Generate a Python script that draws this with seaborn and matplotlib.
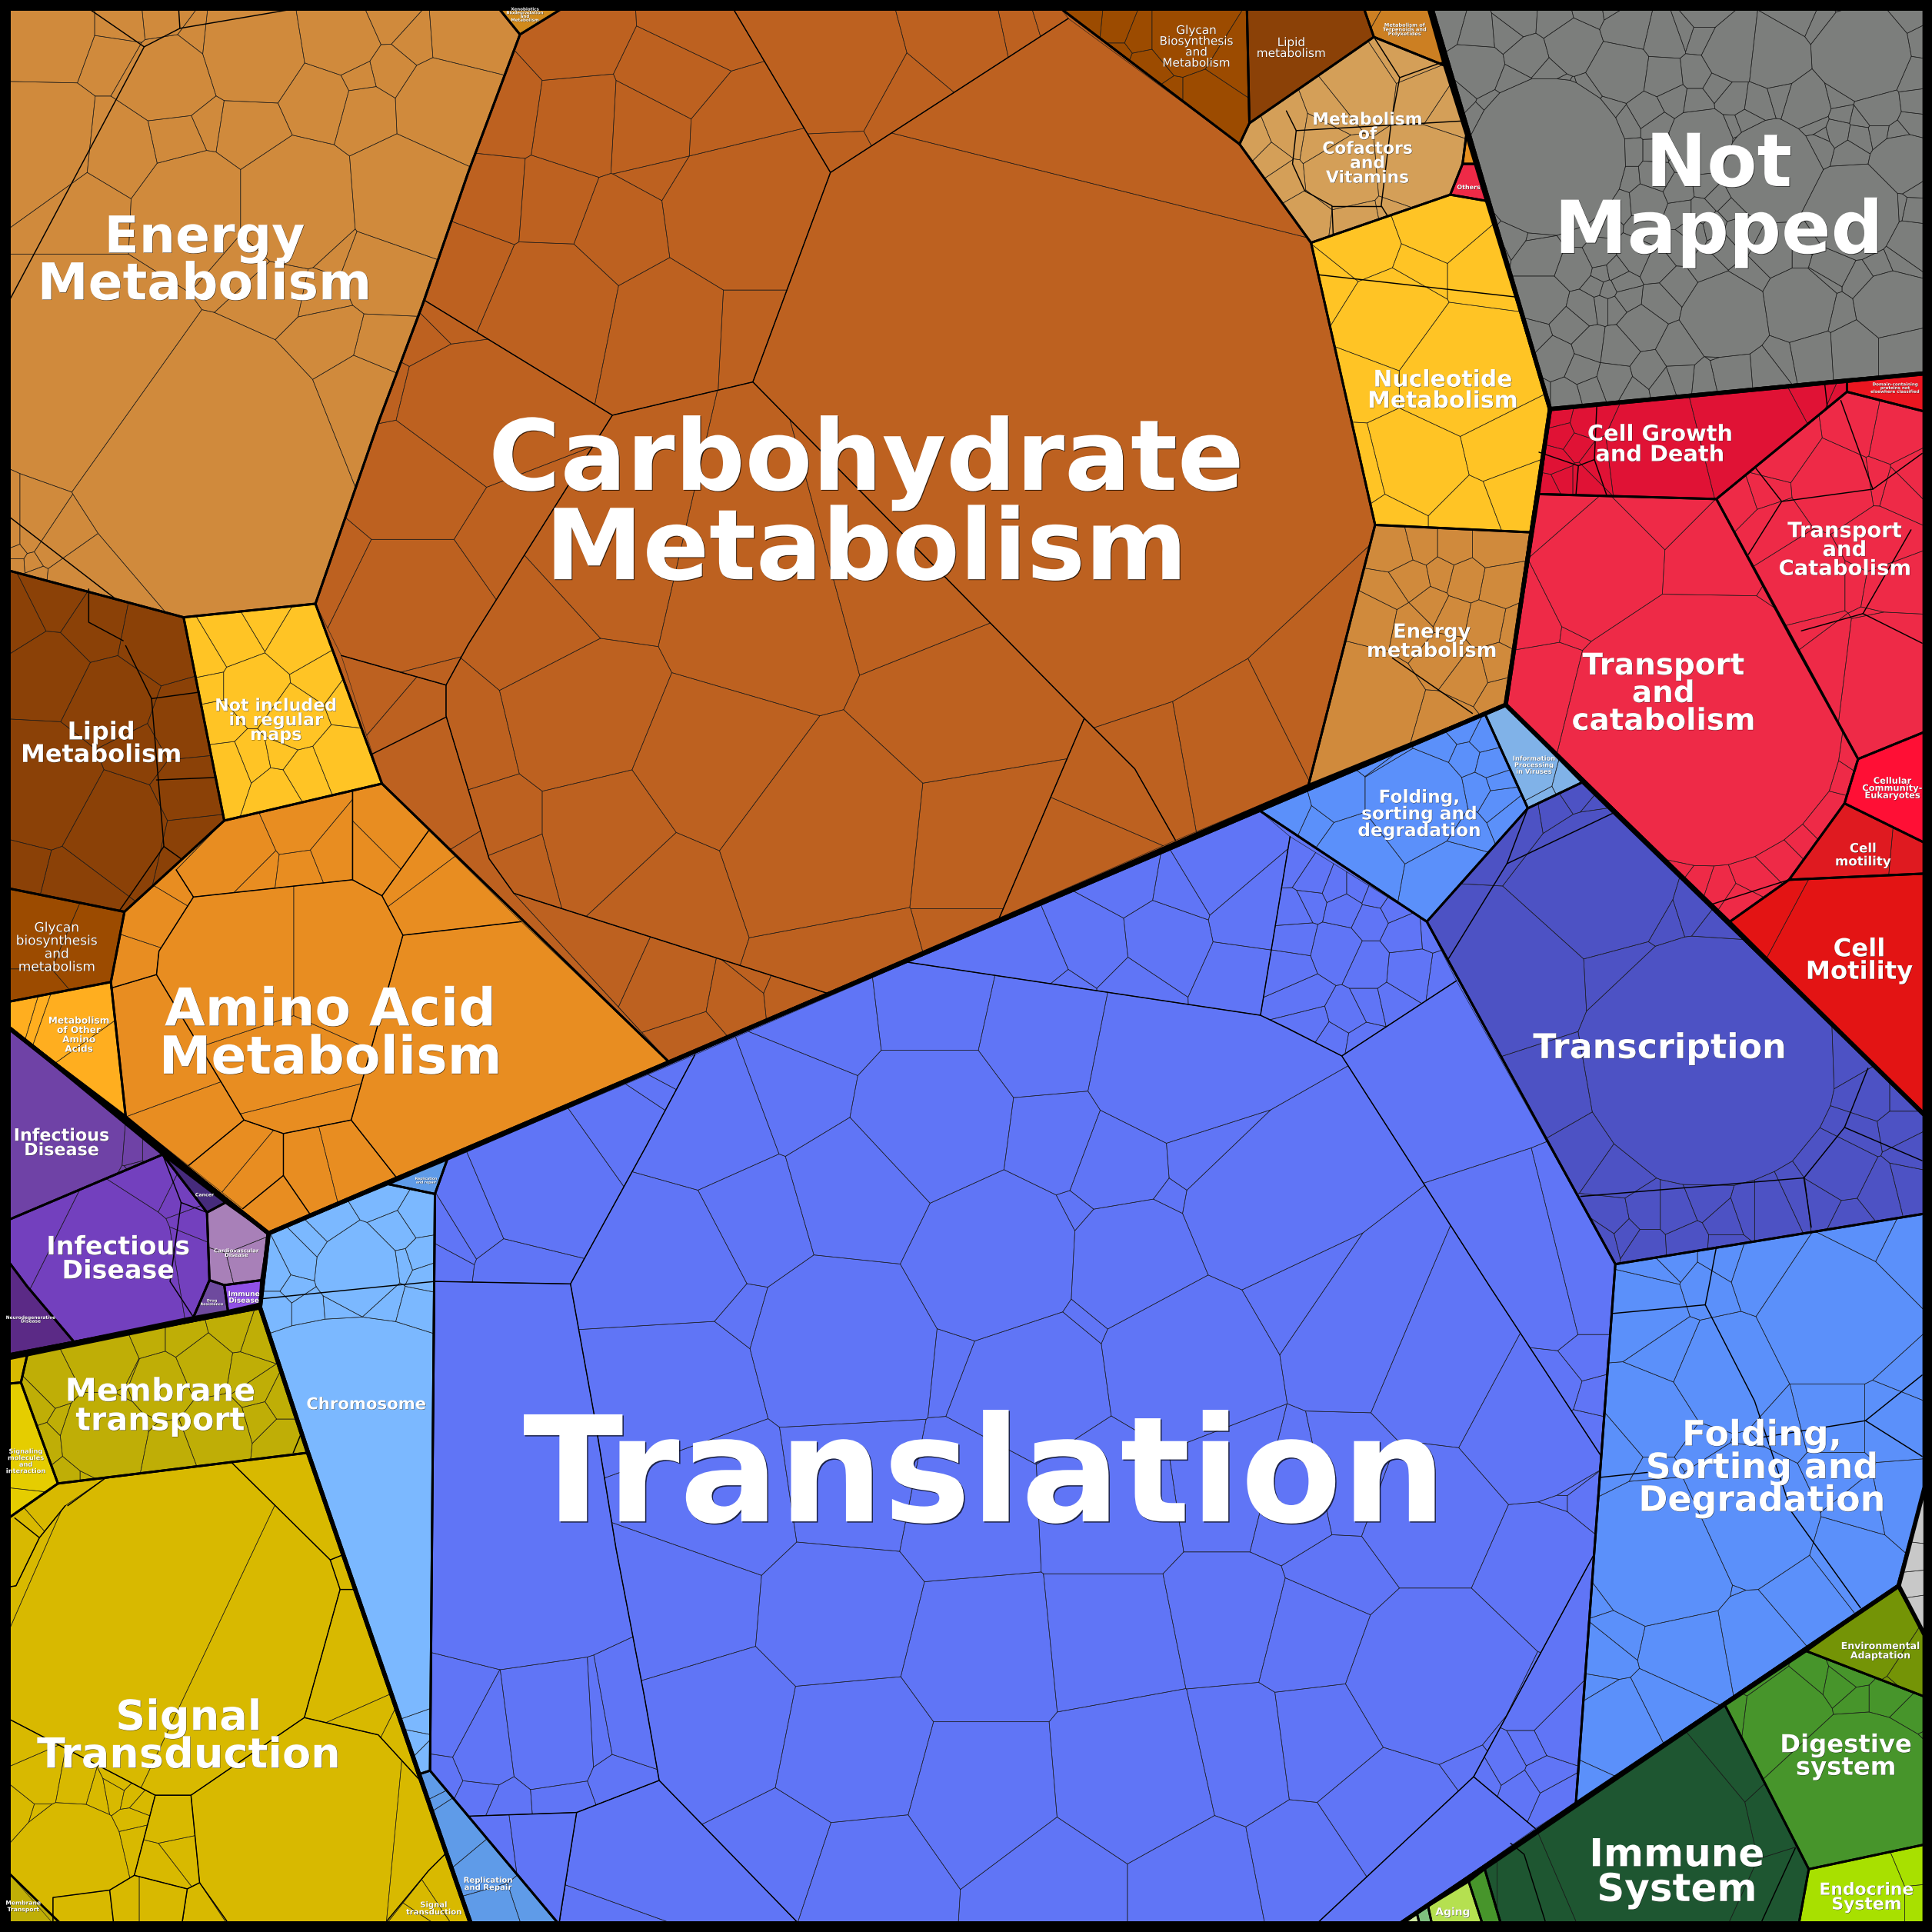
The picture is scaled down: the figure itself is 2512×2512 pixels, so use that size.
import numpy as np
import pandas as pd
import matplotlib
matplotlib.use('Agg')
import matplotlib.pyplot as plt
import matplotlib.patheffects as pe
from matplotlib.patches import Polygon, Rectangle
from matplotlib.path import Path
import seaborn as sns

# everything in a 1568x1568 pixel grid

#------------------------------------------------------------------------------
# outlines of the pathway regions

energy_outline = [(7,7),(405,7),(422,28),(380,140),(343,247),(307,343),(256,490),(149,501),(7,463)]
xeno_outline = [(405,7),(456,7),(422,28)]
carb_outline = [(422,28),(456,7),(861,7),(1006,117),(1064,197),(1116,426),(1062,637),(543,862),(310,636),(256,490),(307,343),(343,247),(380,140)]
not_included_outline = [(149,501),(256,490),(310,636),(182,666)]
lipid_outline = [(7,463),(149,501),(182,666),(101,740),(7,721)]
amino_outline = [(182,666),(310,636),(543,862),(218,1001),(102,906),(90,797),(101,740)]
glycan_left_outline = [(7,721),(101,740),(90,797),(7,813)]
other_amino_outline = [(7,813),(90,797),(102,906),(7,834)]
glycan_top_outline = [(861,7),(1012,7),(1014,100),(1006,117)]
lipid_top_outline = [(1012,7),(1107,7),(1115,30),(1014,100)]
terpenoid_outline = [(1107,7),(1159,7),(1172,53),(1115,30)]
cofactor_outline = [(1006,117),(1014,100),(1115,30),(1172,53),(1190,110),(1187,133),(1177,158),(1064,197)]
others_outline = [(1177,158),(1187,133),(1197,133),(1206,163)]
others_top_outline = [(1187,133),(1190,110),(1197,133)]
nucleotide_outline = [(1064,197),(1177,158),(1206,163),(1258,332),(1242,432),(1116,426)]
energy_small_outline = [(1116,426),(1242,432),(1222,572),(1062,637)]
not_mapped_outline = [(1162,7),(1562,7),(1562,303),(1258,332)]
growth_outline = [(1258,332),(1499,308),(1499,318),(1393,405),(1249,401)]
domain_outline = [(1499,308),(1562,303),(1562,334),(1499,318)]
transport_up_outline = [(1393,405),(1499,318),(1562,334),(1562,594),(1508,616),(1457,524)]
transport_outline = [(1249,401),(1393,405),(1508,616),(1497,652),(1452,714),(1404,748),(1222,572)]
community_outline = [(1508,616),(1562,594),(1562,684),(1497,652)]
motility_small_outline = [(1497,652),(1562,684),(1562,709),(1452,714)]
motility_outline = [(1404,748),(1452,714),(1562,709),(1562,905)]
translation_outline = [(353,969),(363,941),(1021,657),(1158,748),(1311,1026),(1279,1463),(1137,1561),(453,1561),(349,1437)]
folding_small_outline = [(1021,657),(1205,579),(1240,656),(1158,748)]
viruses_outline = [(1205,579),(1222,572),(1284,635),(1240,656)]
transcription_outline = [(1158,748),(1240,656),(1284,635),(1562,905),(1562,985),(1311,1026)]
folding_outline = [(1311,1026),(1562,985),(1562,1207),(1541,1287),(1279,1463)]
chromosome_outline = [(218,1001),(315,961),(353,969),(349,1437),(340,1440),(250,1179),(211,1061)]
repl_top_outline = [(315,961),(363,941),(353,969)]
repl_outline = [(340,1440),(349,1437),(453,1561),(382,1561)]
membrane_outline = [(22,1100),(211,1061),(250,1179),(47,1204),(17,1122)]
signal_small_outline = [(7,1103),(22,1100),(17,1122),(7,1123)]
signaling_outline = [(7,1123),(17,1122),(47,1204),(7,1232)]
signal_outline = [(7,1232),(47,1204),(250,1179),(340,1440),(382,1561),(7,1561)]
membrane_small_outline = [(7,1520),(49,1561),(7,1561)]
infect_up_outline = [(7,834),(132,937),(7,990)]
infect_outline = [(7,990),(132,937),(168,984),(170,1039),(157,1069),(60,1089),(22,1044),(7,1024)]
cancer_outline = [(132,937),(183,976),(168,984)]
cardio_outline = [(168,984),(183,976),(218,1001),(212,1039),(182,1043),(170,1039)]
drug_outline = [(170,1039),(182,1043),(185,1064),(157,1069)]
immune_dis_outline = [(182,1043),(212,1039),(211,1058),(185,1064)]
neuro_outline = [(7,1024),(22,1044),(60,1089),(7,1100)]
env_outline = [(1466,1340),(1540,1287),(1562,1327),(1562,1377)]
grey_outline = [(1562,1207),(1562,1327),(1540,1287)]
digestive_outline = [(1400,1384),(1466,1340),(1562,1377),(1562,1497),(1468,1517)]
endocrine_outline = [(1468,1517),(1562,1497),(1562,1561),(1460,1561)]
immune_outline = [(1205,1517),(1400,1384),(1468,1517),(1460,1561),(1218,1561)]
sensory_outline = [(1192,1527),(1205,1517),(1218,1561),(1203,1561)]
aging_outline = [(1159,1547),(1192,1527),(1203,1561),(1162,1561)]
tiny_a_outline = [(1150,1553),(1159,1547),(1162,1561),(1152,1561)]
tiny_b_outline = [(1137,1561),(1150,1553),(1152,1561)]

# sub pathways of the biggest regions, cells stay inside their own sub pathway
carb_parts = [
    [(611,310),(674,140),(867,15),(1006,117),(1064,197),(1116,426),(1062,637),(954,682),(921,624),(880,583)],
    [(422,28),(456,7),(595,7),(674,140),(611,310),(497,337),(345,244),(380,140)],
    [(595,7),(861,7),(867,15),(674,140)],
    [(497,337),(611,310),(880,583),(811,745),(671,806),(417,725),(397,697),(362,581),(362,556),(380,523)],
    [(345,244),(497,337),(380,523),(362,556),(277,532),(256,490),(307,343)],
    [(277,532),(362,556),(362,581),(397,697),(417,725),(543,862),(310,636)],
    [(417,725),(671,806),(543,862)],
    [(880,583),(921,624),(954,682),(811,745)]]
translation_parts = [
    [(737,781),(1021,657),(1047,679),(1023,824)],
    [(1047,679),(1158,748),(1182,796),(1089,857),(1044,834),(1023,824)],
    [(1182,796),(1311,1026),(1299,1181),(1209,1044),(1089,857)],
    [(564,856),(737,781),(1023,824),(1089,857),(1209,1044),(1299,1181),(1294,1261),(1196,1442),(1070,1560),(648,1561),(535,1445),(523,1377),(500,1257),(482,1147),(463,1042),(524,931)],
    [(1294,1261),(1299,1181),(1311,1026),(1279,1463),(1246,1484),(1196,1442)],
    [(1196,1442),(1246,1484),(1137,1561),(1070,1560)],
    [(353,969),(363,941),(564,856),(524,931),(463,1042),(353,1040)],
    [(353,1040),(463,1042),(482,1147),(500,1257),(523,1377),(535,1445),(468,1471),(380,1474),(349,1437)],
    [(380,1474),(468,1471),(454,1561),(453,1561)],
    [(468,1471),(535,1445),(648,1561),(454,1561)]]
signal_parts = [
    [(53,1222),(85,1200),(188,1187),(268,1266),(276,1290),(247,1394),(155,1457),(126,1457),(7,1395),(7,1288),(13,1287),(32,1248)],
    [(188,1187),(250,1179),(278,1262),(268,1266)],
    [(276,1290),(287,1290),(340,1444),(307,1408),(247,1394)],
    [(247,1394),(307,1408),(340,1444),(362,1504),(348,1518),(314,1561),(184,1561),(162,1528),(155,1457)],
    [(7,1395),(126,1457),(109,1522),(89,1534),(43,1540),(43,1561),(7,1520)],
    [(126,1457),(155,1457),(162,1528),(152,1533),(109,1522)],
    [(109,1522),(152,1533),(148,1561),(92,1561),(89,1534)],
    [(152,1533),(162,1528),(184,1561),(148,1561)],
    [(314,1561),(348,1518),(362,1504),(382,1561)],
    [(7,1232),(47,1204),(85,1200),(53,1222),(32,1248),(13,1287),(7,1288)]]
amino_parts = [
    [(182,666),(286,642),(286,714),(157,728),(143,706)],
    [(286,642),(310,636),(348,674),(310,727),(286,714)],
    [(348,674),(423,748),(327,759),(310,727)],
    [(423,748),(543,862),(322,956),(285,909),(327,759)],
    [(157,728),(286,714),(310,727),(327,759),(285,909),(230,920),(198,909),(127,791),(129,772)],
    [(143,706),(157,728),(129,772),(127,791),(90,802),(90,797),(101,740),(182,666)],
    [(90,802),(127,791),(198,909),(153,946),(102,906)],
    [(198,909),(230,920),(230,954),(197,981),(153,946)],
    [(230,920),(285,909),(322,956),(252,986),(230,954)],
    [(197,981),(230,954),(252,986),(218,1001),(153,946)]]

#------------------------------------------------------------------------------
# protein cells: centre x, centre y, size

energy_cells = [(203,42,38),(137,63,33),(277,30,27),(377,30,25),(363,87,38),(330,160,45),(240,167,48),(157,167,42),
    (260,80,20),(297,90,17),(200,107,20),(143,113,18),(97,123,27),(317,57,12),(293,63,6),(168,102,6),(337,33,9),
    (315,13,15),(157,37,8),(100,20,15),(130,17,12),(42,20,30),(40,117,35),(97,40,12),(73,163,17),(310,217,30),
    (273,203,12),(267,273,20),(307,283,14),(260,240,12),(227,233,18),(203,207,10),(293,317,25),(167,367,100),
    (73,300,85),(13,448,5),(27,457,5),(38,450,7),(13,458,4),(23,440,5),(10,440,4),(30,465,3),(50,467,8)]
carb_cells = [(860,370,215),(933,80,60),(1000,615,50),(1060,585,25),(945,625,35),(1095,510,20),
    (467,30,30),(473,97,32),(405,87,25),(450,167,22),(397,163,22),(527,100,35),(503,187,28),(447,247,45),
    (377,217,28),(363,257,8),(343,277,10),(320,320,15),(373,333,50),(333,387,45),(333,493,50),(413,437,13),
    (270,462,5),(443,513,30),(671,57,50),(784,27,25),(831,17,10),(844,13,6),(731,90,18),(674,120,8),
    (587,103,28),(544,67,35),(564,25,25),(604,173,60),(604,270,30),(547,267,45),(534,130,11),
    (667,681,75),(684,771,40),(791,694,45),(791,741,12),(877,691,27),(899,640,20),
    (541,724,40),(547,801,25),(599,811,18),(611,796,7),(637,807,13),(561,844,15),
    (475,575,48),(500,680,40),(620,500,65),(585,620,60),(730,470,55),(770,570,40),(490,470,35),
    (300,560,20),(335,590,22),(345,540,10),(370,600,8),(395,680,6),(440,760,14),(490,775,16),(405,705,4)]
not_included_cells = [(190,520,14),(165,535,10),(240,520,14),(215,505,8),(205,560,22),(175,585,14),(240,585,22),
    (180,625,18),(225,640,10),(250,625,16),(275,615,20),(205,615,8),(230,610,8),(280,570,10),(260,555,10),(170,560,8)]
lipid_cells = [(40,545,25),(90,570,28),(15,505,10),(45,490,10),(75,510,15),(125,520,18),(35,640,45),(90,670,38),
    (145,590,16),(150,640,14),(155,685,7),(110,610,15),(20,700,8),(60,710,15)]
amino_cells = [(195,690,22),(240,670,18),(270,695,12),(320,680,14),(205,700,10),(245,705,8),(300,700,14),(150,720,10),
    (135,745,16),(120,790,14),(200,780,50),(270,780,45),(230,870,35),(130,840,30),(360,750,40),(440,840,85),(240,910,30),
    (165,935,22),(185,930,16),(215,955,14),(250,950,14),(290,940,22),(255,990,10),(195,985,18),(300,975,14),(335,965,10),(330,710,16)]
glycan_left_cells = [(30,755,30),(65,770,24),(30,800,10)]
other_amino_cells = [(20,825,6),(50,835,18),(75,870,22),(30,828,5),(60,885,10)]
glycan_top_cells = [(960,30,24),(905,22,10),(885,20,7),(930,55,10),(980,85,20),(950,85,10),(925,30,7),(905,45,6),(915,70,8),(1000,55,6)]
lipid_top_cells = [(1060,50,60)]
terpenoid_cells = [(1140,28,26),(1112,12,4)]
cofactor_cells = [(1110,75,22),(1150,80,18),(1140,55,10),(1165,90,8),(1090,140,26),(1150,135,32),(1075,115,14),(1030,130,9),
    (1045,110,8),(1060,180,15),(1100,185,16),(1135,178,10),(1040,145,6),(1020,120,5),(1085,95,7)]
nucleotide_cells = [(1110,210,20),(1165,190,18),(1090,235,14),(1150,225,20),(1195,225,14),(1130,260,42),(1185,300,50),
    (1115,300,22),(1150,375,35),(1215,360,22),(1230,400,14),(1110,385,18),(1190,415,14),(1130,415,10)]
energy_small_cells = [(1135,450,9),(1155,445,9),(1180,445,11),(1210,445,11),(1145,470,13),(1170,465,9),(1190,470,13),
    (1215,475,12),(1130,480,8),(1160,490,9),(1205,505,12),(1180,500,9),(1230,510,7),(1120,500,7),(1145,505,8),
    (1215,540,10),(1195,545,9),(1220,560,6),(1175,530,7),(1100,580,50),(1170,600,25)]
not_mapped_cells = [(1256,127,63),(1512,43,38),(1314,58,22),(1441,47,23),(1406,43,21),(1277,37,18),(1349,63,13),(1197,55,17),
    (1321,23,15),(1437,138,38),(1504,172,37),(1544,132,22),(1401,257,33),(1460,248,28),(1534,247,25),(1504,283,17),
    (1471,285,15),(1406,302,15),(1542,283,13),(1381,115,25),(1467,83,18),(1524,87,15),(1252,242,17),(1252,208,15),
    (1277,217,13),(1332,267,14),(1363,283,13),(1551,197,17),(1351,30,13),(1231,13,10),(1241,47,10),(1174,20,8),(1199,27,9),
    (1377,60,7),(1274,80,6),(1357,80,8),(1377,83,6),(1394,70,6),(1406,80,8),(1427,83,7),(1447,77,8),(1491,77,9),(1551,60,10),(1554,83,5),
    (1337,90,10),(1344,100,6),(1474,100,6),(1491,107,8),(1509,110,7),(1501,123,6),(1524,107,5),(1511,97,5),(1477,117,6),(1494,93,4),
    (1344,143,11),(1337,163,12),(1361,153,8),(1364,173,6),(1381,173,6),(1374,187,7),(1391,183,6),(1411,190,10),(1364,200,7),(1337,183,8),(1327,207,8),
    (1300,222,4),(1310,220,4),(1315,230,4),(1305,235,4),(1295,232,4),(1318,242,4),(1310,248,4),(1300,248,4),(1285,250,9),(1297,207,8),
    (1274,263,10),(1244,273,9),(1261,290,12),(1291,280,9),(1314,283,13),(1284,300,8),(1311,307,11),(1337,300,10),(1364,305,7),(1384,307,6),(1432,300,10),
    (1544,207,10),(1487,213,14),(1554,173,8),(1440,205,14),(1400,200,9),(1385,215,6),(1348,245,7),(1420,225,6),(1362,232,7),(1345,215,5),
    (1230,68,4),(1215,90,4),(1205,100,4),(1198,125,4),(1180,75,5),(1222,25,4),(1262,15,7),(1290,8,5),(1310,5,3),(1380,12,8),(1365,25,6),(1380,30,5),
    (1462,10,8),(1480,18,6),(1500,3,3),(1545,15,8),(1555,35,5),(1256,60,4),(1262,72,3),(1290,75,4),(1305,88,4),(1320,100,4),(1322,125,4),(1322,145,4),(1315,165,4),
    (1300,180,4),(1278,190,4),(1250,196,4),(1228,190,4),(1207,170,4),(1218,160,3),(1208,200,5),(1230,300,6),(1245,320,4),(1272,320,5),(1290,315,4),(1325,315,4),(1350,310,4),
    (1400,285,4),(1445,290,5),(1490,255,5),(1480,225,5),(1510,225,5),(1525,215,5),(1540,170,4),(1555,150,4),(1552,100,4),(1540,110,5),(1470,195,6),(1460,205,4),(1480,110,4),
    (1405,105,5),(1418,100,5),(1410,118,4),(1355,120,4),(1365,130,4),(1345,125,5),(1385,150,4),(1395,160,5),(1405,170,4)]
growth_cells = [(1268,352,7),(1280,360,6),(1262,375,6),(1285,345,7),(1268,390,6),(1258,395,5),(1285,390,6),(1300,375,12),
    (1340,370,36),(1420,350,35),(1500,325,4),(1492,320,4),(1483,316,4),(1265,340,5)]
domain_cells = [(1530,318,30)]
transport_up_cells = [(1440,360,25),(1490,395,28),(1440,430,18),(1465,470,32),(1520,440,22),(1533,475,18),(1530,535,36),
    (1490,530,20),(1415,405,7),(1430,400,7),(1510,350,9),(1535,355,14),(1540,395,7),(1550,385,6),(1522,390,6),(1505,470,6),(1475,510,5),(1525,510,5)]
transport_cells = [(1383,590,112),(1300,465,50),(1385,470,35),(1262,560,22),(1265,425,14),(1340,425,10),(1250,490,14),(1440,505,8),
    (1285,495,6),(1312,640,9),(1360,700,8),(1395,720,8),(1410,730,6),(1440,690,8),(1470,660,7),
    (1480,620,5),(1490,605,5),(1333,665,6),(1345,690,7),(1380,715,5),(1420,710,6),(1455,675,5),(1330,680,4)]
community_cells = [(1530,640,40)]
motility_small_cells = [(1500,690,28),(1555,695,4)]
motility_cells = [(1425,760,20),(1500,800,70)]
translation_cells = [(757,911,65),(947,864,62),(847,844,48),(757,824,40),(854,924,40),(907,944,40),(807,1021,68),(697,967,58),
    (614,991,48),(581,917,45),(651,891,38),(674,834,33),(971,939,22),(1017,987,55),(921,1027,55),(1050,1057,35),(964,1107,70),
    (841,1124,60),(684,1091,72),(557,1124,55),(551,1024,55),(601,1067,18),(781,1101,10),(884,1072,12),(874,986,6),(947,974,5),
    (791,757,40),(887,767,28),(941,761,28),(987,704,25),(954,724,15),(1021,744,25),(1014,794,25),(914,717,22),(917,797,17),
    (867,797,10),(854,781,14),(1174,1121,55),(1241,1157,60),(1161,1227,57),(1251,1267,45),(1161,1361,68),(1087,1281,35),
    (1067,1327,45),(1077,1411,45),(1127,1471,52),(1067,1511,40),(1094,1087,50),(1091,1201,45),(1044,1211,50),
    (1000,1200,55),(900,1215,60),(790,1220,55),(690,1200,55),(590,1215,55),(560,1300,45),(680,1310,55),(800,1340,55),(900,1330,50),
    (1000,1310,45),(920,1440,60),(1010,1420,40),(800,1450,50),(690,1420,55),(590,1400,50),(640,1500,30),(700,1520,40),(860,1530,40),(970,1530,40),
    (417,1210,130),(447,1417,35),(393,1424,25),(367,1410,15),(483,1415,10),(510,1410,14),(500,1440,10),(413,1460,8),(453,1457,15),(390,1450,10),(363,1437,10),
    (440,1500,25),(490,1514,25),(410,1504,12),(477,1550,12),(433,974,40),(393,991,22),(367,1007,10),(420,1027,25),(360,1020,8),
    (1084,771,17),(1112,784,15),(1144,787,18),(1066,714,10),(1091,737,10),(1112,747,9),(1141,761,14),(1054,764,9),(1061,807,7),
    (1051,784,9),(1092,824,10),(1112,814,6),(1082,841,7),(1067,831,6),(1064,731,7),(1131,737,5),(1101,721,7),(1084,721,8),(1116,727,6),
    (1052,737,7),(1051,704,6),(1130,810,8),(1155,760,6),(1165,790,8),(1105,845,6),(1180,800,6),(1222,1430,14),(1235,1450,10),(1205,1440,9),
    (1240,1420,9),(1215,1405,8),(1190,1425,7),(1250,1440,9),(1225,1470,8),(1260,1410,8),(1240,1390,7),(1210,1385,8),(1262,1462,6),
    (1265,1120,12),(1290,1100,16),(1290,1070,12),(1270,1075,8),(1298,1130,8),(1266,1200,9),(1285,1225,12),(1265,1225,5),(1290,1165,6),(540,890,7),(530,905,6),(548,875,5)]
folding_small_cells = [(1150,650,38),(1098,690,25),(1180,705,18),(1085,650,14),(1048,660,8),(1168,605,8),(1185,590,8),(1210,620,8),(1217,650,8),
    (1200,640,6),(1205,600,5),(1190,615,6),(1215,635,4),(1188,675,6),(1225,660,6),(1120,605,9),(1135,625,8),(1070,670,7)]
viruses_cells = [(1230,620,30),(1276,632,3),(1245,648,3)]
transcription_cells = [(1387,861,100),(1300,715,58),(1228,795,52),(1320,790,22),(1257,884,30),(1284,931,14),(1314,952,10),(1350,744,8),(1372,737,8),(1394,754,5),
    (1285,690,7),(1235,665,6),(1265,660,6),(1280,650,5),(1292,660,5),(1310,990,7),(1335,985,9),
    (1360,985,9),(1385,975,6),(1420,985,7),(1335,1010,8),(1370,1008,10),(1400,992,8),(1440,985,17),(1300,1005,6),(1320,1000,5),
    (1400,1010,5),(1455,978,9),(1520,890,14),(1540,915,9),(1510,920,8),(1540,890,7),(1550,935,5),(1495,950,22),(1525,965,14),(1545,960,8),(1480,975,10),
    (1500,985,6),(1501,857,6),(1480,800,5)]
folding_cells = [(1338,1060,22),(1430,1030,18),(1490,1070,55),(1400,1020,7),(1355,1020,8),(1365,1100,18),(1345,1150,28),(1400,1115,40),(1415,1230,55),
    (1350,1260,60),(1310,1180,12),(1490,1150,30),(1530,1150,25),(1490,1195,18),(1450,1160,12),(1510,1220,15),(1535,1215,12),(1540,1125,8),(1500,1255,12),
    (1365,1330,28),(1310,1400,30),(1340,1385,8),(1285,1455,5),(1300,1345,6),(1295,1375,5),(1420,1320,15),(1400,1270,8),(1380,1175,6),(1405,1205,5),(1420,1190,5),
    (1345,1200,5),(1455,1290,8),(1500,1040,12),(1540,1020,14),(1520,1010,8),(1320,1320,5),(1310,1290,6),(1345,1030,5),(1385,1045,4)]
chromosome_cells = [(290,1030,33),(245,1025,10),(270,1000,9),(225,1035,7),(320,1000,12),(340,1020,7),(325,1025,6),(260,1010,6),(240,1045,7),(345,1035,5),(335,990,6),(310,975,6),
    (285,1235,165),(250,1060,8),(275,1058,7),(310,1052,10),(340,1060,8),(340,1390,14),(335,1415,7),(345,1425,5),(225,1060,5)]
repl_cells = [(375,1480,22),(400,1510,16),(362,1460,5),(425,1540,9),(410,1545,7),(357,1450,4)]
membrane_cells = [(85,1165,35),(165,1110,22),(85,1105,25),(130,1125,25),(195,1115,10),(205,1130,9),(210,1150,10),(135,1175,18),(175,1160,25),(45,1125,12),(30,1140,7),
    (55,1155,8),(70,1195,5),(105,1115,8),(40,1170,5),(60,1195,5),(225,1165,8),(150,1090,10),(190,1080,10),(120,1090,7),(205,1085,5),(100,1135,5),(225,1140,5),(115,1155,5)]
signaling_cells = [(25,1180,25),(20,1225,5)]
signal_cells = [(110,1300,85),(205,1345,62),(240,1225,20),(30,1265,6),(22,1250,5),(45,1230,4),(290,1350,30),
    (245,1480,70),(57,1503,40),(77,1457,7),(93,1454,5),(107,1457,4),(115,1464,4),(110,1477,5),(113,1490,6),(17,1467,8),(33,1472,5),(97,1447,4),(60,1452,14),(33,1447,16),(17,1410,9),
    (140,1480,10),(132,1514,7),(145,1504,7),(165,1540,10),(125,1540,12),(105,1540,8),(75,1550,10),(340,1540,10),(355,1530,8),(330,1555,6),(310,1395,4),(350,1490,5),(320,1400,3)]
infect_up_cells = [(45,930,55),(100,960,8),(108,935,7),(112,950,4),(85,970,6),(120,935,3)]
infect_cells = [(90,1030,55),(150,1020,18),(30,1000,25),(145,965,6),(158,1000,4),(135,960,4)]
cardio_cells = [(190,1000,14),(200,1025,14),(180,1030,6)]
neuro_cells = [(25,1075,28)]
digestive_cells = [(1450,1395,34),(1410,1390,5),(1510,1460,70),(1545,1400,12),(1530,1385,8),(1552,1415,6),(1505,1385,6),(1490,1368,8),(1425,1360,10),(1555,1465,7),
    (1480,1495,8),(1510,1505,7),(1540,1490,7),(1555,1445,5),(1500,1355,6),(1475,1365,5)]
env_cells = [(1510,1335,30),(1535,1375,4),(1548,1360,8)]
endocrine_cells = [(1505,1540,40),(1553,1520,5),(1555,1540,4)]
immune_cells = [(1340,1490,80),(1235,1535,20),(1400,1440,25),(1300,1430,18),(1220,1535,5),(1450,1540,8),(1428,1470,7)]
grey_cells = [(1550,1265,8),(1552,1285,7),(1555,1305,4),(1553,1240,4)]

#------------------------------------------------------------------------------
# group names and region colours

region_names = ['energy','xeno','carb','not_included','lipid','amino','glycan_left','other_amino','glycan_top','lipid_top','terpenoid',
    'cofactor','others','others_top','nucleotide','energy_small','not_mapped','growth','domain','transport_up','transport','community',
    'motility_small','motility','translation','folding_small','viruses','transcription','folding','chromosome','repl_top','repl',
    'membrane','signal_small','signaling','signal','membrane_small','infect_up','infect','cancer','cardio','drug','immune_dis','neuro',
    'env','grey','digestive','endocrine','immune','sensory','aging','tiny_a','tiny_b']
region_outlines = [energy_outline,xeno_outline,carb_outline,not_included_outline,lipid_outline,amino_outline,glycan_left_outline,other_amino_outline,
    glycan_top_outline,lipid_top_outline,terpenoid_outline,cofactor_outline,others_outline,others_top_outline,nucleotide_outline,energy_small_outline,
    not_mapped_outline,growth_outline,domain_outline,transport_up_outline,transport_outline,community_outline,motility_small_outline,motility_outline,
    translation_outline,folding_small_outline,viruses_outline,transcription_outline,folding_outline,chromosome_outline,repl_top_outline,repl_outline,
    membrane_outline,signal_small_outline,signaling_outline,signal_outline,membrane_small_outline,infect_up_outline,infect_outline,cancer_outline,
    cardio_outline,drug_outline,immune_dis_outline,neuro_outline,env_outline,grey_outline,digestive_outline,endocrine_outline,immune_outline,
    sensory_outline,aging_outline,tiny_a_outline,tiny_b_outline]
region_colours = ['#D08A3C','#D08A1C','#BD6120','#FFC425','#8B4107','#E88D21','#9C4B00','#FFAE1F','#9C4B00','#8B4107','#CC7F22',
    '#D49F58','#EE2A47','#E8901F','#FFC425','#D08A3C','#7C7E7C','#E01235','#EB1620','#EE2A47','#EE2A47','#FF0F35',
    '#DF1A20','#E31414','#6075F6','#5B90FA','#80B2E8','#4D52C4','#5B90FA','#7BB8FF','#5F9BE8','#5F9BE8',
    '#BFAE06','#D8B900','#E5CD00','#D8B900','#BFAE06','#6F42A6','#7340BE','#462B7C','#A880B8','#6E4A9E','#9050E6','#5B2A86',
    '#749406','#C8C8C8','#47952B','#A8E000','#1E5631','#47952B','#B5E050','#7FBF7F','#D0E8A0']
region_cells = {'energy':energy_cells,'carb':carb_cells,'not_included':not_included_cells,'lipid':lipid_cells,'amino':amino_cells,
    'glycan_left':glycan_left_cells,'other_amino':other_amino_cells,'glycan_top':glycan_top_cells,'lipid_top':lipid_top_cells,
    'terpenoid':terpenoid_cells,'cofactor':cofactor_cells,'nucleotide':nucleotide_cells,'energy_small':energy_small_cells,
    'not_mapped':not_mapped_cells,'growth':growth_cells,'domain':domain_cells,'transport_up':transport_up_cells,'transport':transport_cells,
    'community':community_cells,'motility_small':motility_small_cells,'motility':motility_cells,'translation':translation_cells,
    'folding_small':folding_small_cells,'viruses':viruses_cells,'transcription':transcription_cells,'folding':folding_cells,
    'chromosome':chromosome_cells,'repl':repl_cells,'membrane':membrane_cells,'signaling':signaling_cells,'signal':signal_cells,
    'infect_up':infect_up_cells,'infect':infect_cells,'cardio':cardio_cells,'neuro':neuro_cells,'digestive':digestive_cells,'env':env_cells,
    'endocrine':endocrine_cells,'immune':immune_cells,'grey':grey_cells}
region_parts = {'carb':carb_parts,'translation':translation_parts,'signal':signal_parts,'amino':amino_parts}

# outlines of the top level groups, the heaviest lines
group_outlines = [
    [(7,7),(1162,7),(1258,332),(1222,572),(218,1001),(7,834)],
    [(1162,7),(1562,7),(1562,303),(1258,332)],
    [(1258,332),(1562,303),(1562,905),(1222,572)],
    [(218,1001),(1222,572),(1562,905),(1562,1207),(1541,1287),(1137,1561),(382,1561),(340,1440),(250,1179),(211,1061)],
    [(211,1061),(250,1179),(382,1561),(7,1561),(7,1100)],
    [(7,834),(218,1001),(211,1061),(7,1100)],
    [(1541,1287),(1562,1327),(1562,1561),(1137,1561)]]

# sub pathway lines inside the regions
sub_lines = [
    [(345,244),(497,337),(611,310),(674,140),(867,15)],[(674,140),(595,7)],[(611,310),(880,583),(811,745)],[(880,583),(921,624),(954,682)],
    [(497,337),(380,523),(362,556),(362,581),(397,697),(417,725),(671,806)],[(277,532),(362,556)],[(302,612),(362,582)],
    [(286,642),(286,714)],[(143,706),(157,728),(286,714),(310,727),(348,674)],[(310,727),(327,759),(423,748)],[(157,728),(129,772),(127,791),(90,802)],
    [(127,791),(198,909),(230,920),(285,909),(327,759)],[(285,909),(322,956)],[(230,920),(230,954),(252,986)],[(198,909),(153,946)],[(197,981),(230,954)],
    [(102,524),(123,567),(160,562)],[(123,567),(133,687),(97,739)],[(133,687),(147,697)],[(127,633),(175,631)],[(72,478),(72,505),(100,520)],
    [(7,245),(117,38),(72,7)],[(117,38),(146,23),(240,7)],[(146,23),(145,7)],[(7,419),(95,487)],
    [(55,1222),(85,1200)],[(188,1187),(268,1266),(278,1262)],[(268,1266),(276,1290),(287,1290)],[(276,1290),(247,1394),(307,1408),(340,1444)],
    [(247,1394),(155,1457),(126,1457),(7,1395)],[(126,1457),(109,1522)],[(155,1457),(162,1528),(184,1559)],[(162,1528),(152,1533),(109,1522),(89,1534),(43,1540),(43,1559)],
    [(152,1533),(148,1559)],[(89,1534),(92,1559)],[(12,1232),(32,1248),(53,1222)],[(32,1248),(13,1287),(7,1288)],[(348,1518),(314,1559)],[(348,1518),(362,1504)],
    [(213,1054),(312,1044),(353,1040)],[(737,781),(1023,824),(1047,679)],[(1023,824),(1044,834),(1089,857),(1182,796)],[(1089,857),(1209,1044),(1299,1181)],
    [(564,856),(524,931),(463,1042),(482,1147),(500,1257),(523,1377),(535,1445),(648,1561)],[(353,1040),(463,1042)],[(535,1445),(468,1471),(380,1474)],[(468,1471),(454,1559)],
    [(1070,1560),(1196,1442),(1294,1261)],[(1196,1442),(1246,1484)],
    [(1384,1059),(1309,1066)],[(1384,1059),(1387,1044),(1393,1012)],[(1384,1059),(1424,1137),(1454,1227),(1510,1305)],[(1514,1153),(1560,1116)],[(1514,1153),(1560,1182)],
    [(1514,1153),(1427,1167)],[(1299,1199),(1337,1195)],
    [(1240,656),(1223,701),(1309,660)],[(1223,701),(1175,779)],[(1516,867),(1497,915),(1560,942)],[(1497,915),(1464,956),(1283,971)],[(1464,956),(1470,996)],
    [(1425,380),(1446,407),(1419,450)],[(1446,407),(1520,397),(1494,325)],[(1520,397),(1560,368)],[(1512,498),(1462,512)],[(1512,498),(1560,522)],[(1551,430),(1512,498)],
    [(1296,328),(1294,373),(1304,402)],[(1249,367),(1281,378),(1279,402)],[(1281,378),(1294,373)],[(1481,312),(1483,330)],[(1389,734),(1452,714)],
    [(1115,30),(1136,63),(1172,50)],[(1136,63),(1129,100),(1121,167),(1126,175)],[(1190,98),(1052,106),(1044,90)],[(1052,106),(1049,133),(1059,155),(1081,167),(1082,190)],[(1081,167),(1121,167)],
    [(1070,223),(1230,241)],[(1130,534),(1195,579)],[(1226,1496),(1237,1505),(1254,1559)],[(1457,1500),(1430,1559)],[(238,1179),(245,1162)],
    [(147,976),(168,984)],[(147,976),(138,1040),(157,1069)],[(147,976),(132,937)]]

# label text, centre x, centre y, size in points, weight
labels = [('Translation',799,1202,55,'bold'),('Carbohydrate\nMetabolism',703,412,36.7,'bold'),('Not\nMapped',1395,162,27.4,'bold'),
    ('Energy\nMetabolism',166,213,19.1,'bold'),('Amino Acid\nMetabolism',268,840,19.6,'bold'),('Signal\nTransduction',153,1410,15.6,'bold'),
    ('Folding,\nSorting and\nDegradation',1430,1192,13.2,'bold'),('Transcription',1347,851,12.8,'bold'),('Immune\nSystem',1361,1520,14.4,'bold'),
    ('Membrane\ntransport',130,1142,11.9,'bold'),('Infectious\nDisease',96,1022,9.6,'bold'),('Infectious\nDisease',50,928,6.4,'bold'),
    ('Nucleotide\nMetabolism',1171,317,8.6,'bold'),('Transport\nand\ncatabolism',1350,563,11.2,'bold'),('Transport\nand\nCatabolism',1497,447,7.9,'bold'),
    ('Cell Growth\nand Death',1347,361,8.3,'bold'),('Cell\nMotility',1509,780,9.3,'bold'),('Digestive\nsystem',1498,1426,9.3,'bold'),
    ('Lipid\nMetabolism',82,604,9.2,'bold'),('Not included\nin regular\nmaps',224,585,6.4,'bold'),('Folding,\nsorting and\ndegradation',1152,661,6.7,'bold'),
    ('Energy\nmetabolism',1162,521,7.4,'bold'),('Chromosome',297,1140,6.1,'bold'),('Metabolism\nof\nCofactors\nand\nVitamins',1110,121,6.3,'bold'),
    ('Endocrine\nSystem',1515,1540,6.3,'bold'),('Glycan\nBiosynthesis\nand\nMetabolism',971,38,4.4,'normal'),('Lipid\nmetabolism',1048,39,4.4,'normal'),
    ('Glycan\nbiosynthesis\nand\nmetabolism',46,769,4.9,'normal'),('Metabolism\nof Other\nAmino\nAcids',64,840,3.5,'bold'),('Cell\nmotility',1512,694,4.8,'bold'),
    ('Cellular\nCommunity-\nEukaryotes',1536,640,3.3,'bold'),('Environmental\nAdaptation',1526,1340,3.6,'bold'),('Aging',1179,1552,4.0,'bold'),
    ('Replication\nand Repair',396,1529,2.9,'bold'),('Signal\ntransduction',352,1549,2.9,'bold'),('Signaling\nmolecules\nand\ninteraction',21,1186,2.4,'bold'),
    ('Immune\nDisease',198,1053,2.6,'bold'),('Cardiovascular\nDisease',192,1017,2.0,'bold'),('Drug\nResistance',172,1057,1.4,'bold'),('Cancer',166,970,1.8,'bold'),
    ('Neurodegenerative\nDisease',25,1071,1.7,'bold'),('Others',1192,152,2.3,'bold'),('Information\nProcessing\nin Viruses',1245,621,2.4,'bold'),
    ('Metabolism of\nTerpenoids and\nPolyketides',1140,24,1.9,'bold'),('Xenobiotics\nBiodegradation\nand\nMetabolism',426,12,1.6,'bold'),
    ('Domain-containing\nproteins not\nelsewhere classified',1538,315,1.6,'bold'),('Membrane\nTransport',19,1547,2.2,'bold'),('Replication\nand repair',346,958,1.3,'bold')]

#------------------------------------------------------------------------------

def clip_halfplane(poly, normal, offset):
    # keep the part of poly where normal.x <= offset
    out = []
    n = len(poly)
    for i in range(n):
        a, b = poly[i], poly[(i + 1) % n]
        da = a @ normal - offset
        db = b @ normal - offset
        if da <= 0:
            out.append(a)
        if da * db < 0:
            out.append(a + (b - a) * da / (da - db))
    return out


def power_cells(outline, seeds):
    # one clipped cell per seed, the protein cells are a power diagram
    start = [np.array(p, dtype=float) for p in outline]
    cells = []
    for i, (x, y, r) in enumerate(seeds):
        poly = start
        for j, (x2, y2, r2) in enumerate(seeds):
            if i == j or not poly:
                continue
            normal = 2 * np.array([x2 - x, y2 - y], dtype=float)
            offset = float(x2**2 + y2**2 - r2**2 - x**2 - y**2 + r**2)
            poly = clip_halfplane(poly, normal, offset)
        if len(poly) > 2:
            cells.append(np.array(poly))
    return cells


def lines_frame(polylines, close):
    rows = []
    for k, line in enumerate(polylines):
        pts = list(map(tuple, line))
        if close:
            pts = pts + [pts[0]]
        for x, y in pts:
            rows.append((k, x, y))
    return pd.DataFrame(rows, columns=['unit', 'x', 'y'])


sns.set_theme(style='white')
fig = plt.figure(figsize=(10.048, 10.048), dpi=250, facecolor='black')
ax = fig.add_axes([0, 0, 1, 1])

for outline, colour in zip(region_outlines, region_colours):
    ax.add_patch(Polygon(outline, closed=True, facecolor=colour, edgecolor=colour, linewidth=0.2, zorder=1))

cell_polys = []
for name, outline in zip(region_names, region_outlines):
    if name not in region_cells:
        continue
    seeds = region_cells[name]
    if name in region_parts:
        for part in region_parts[name]:
            path = Path(part)
            inside = [s for s in seeds if path.contains_point(s[:2])]
            cell_polys += power_cells(part, inside)
    else:
        cell_polys += power_cells(outline, seeds)

sns.lineplot(data=lines_frame(cell_polys, True), x='x', y='y', units='unit', estimator=None, sort=False,
             color='#1a1a1a', linewidth=0.2, alpha=0.8, legend=False, ax=ax, zorder=2)
sns.lineplot(data=lines_frame(sub_lines, False), x='x', y='y', units='unit', estimator=None, sort=False,
             color='black', linewidth=0.42, legend=False, ax=ax, zorder=3)
sns.lineplot(data=lines_frame(region_outlines, True), x='x', y='y', units='unit', estimator=None, sort=False,
             color='black', linewidth=0.85, legend=False, ax=ax, zorder=4)
sns.lineplot(data=lines_frame(group_outlines, True), x='x', y='y', units='unit', estimator=None, sort=False,
             color='black', linewidth=1.6, legend=False, ax=ax, zorder=5)

# black frame round the whole map
ax.add_patch(Rectangle((0, 0), 1568, 1568, fill=False, edgecolor='black', linewidth=6.7, zorder=6))

for text, x, y, size, weight in labels:
    t = ax.text(x, y, text, ha='center', va='center', color='white', fontsize=size, fontweight=weight,
                family='DejaVu Sans', linespacing=0.93, zorder=7)
    shift = max(size * 0.008, 0.12)
    t.set_path_effects([pe.withSimplePatchShadow(offset=(shift, -shift), shadow_rgbFace='black', alpha=0.7)])

ax.set_xlim(0, 1568)
ax.set_ylim(1568, 0)
ax.axis('off')
fig.savefig('out.png', dpi=250, facecolor='black')
